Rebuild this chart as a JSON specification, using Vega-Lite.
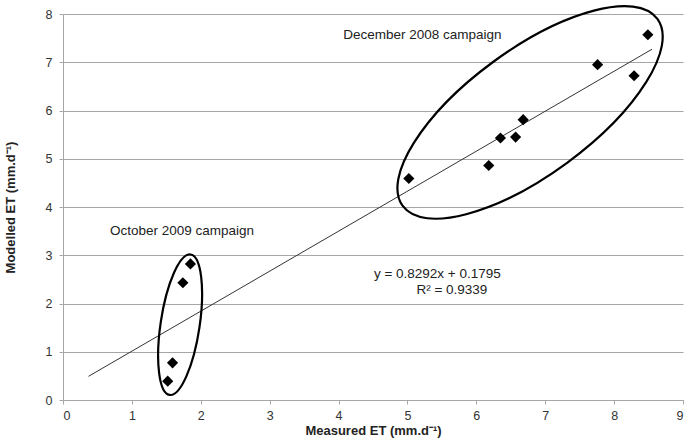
{
  "$schema": "https://vega.github.io/schema/vega-lite/v6.json",
  "width": 620,
  "height": 386,
  "autosize": {"type": "none"},
  "padding": {"left": 63, "top": 14, "right": 2, "bottom": 44},
  "background": "white",
  "config": {
    "view": {"stroke": null},
    "font": "Liberation Sans",
    "axis": {
      "labelFont": "Liberation Sans",
      "titleFont": "Liberation Sans",
      "labelFontSize": 12.5,
      "labelColor": "#333333",
      "titleFontSize": 13,
      "titleFontWeight": "bold",
      "titleColor": "#222222",
      "domainColor": "#a6a6a6",
      "tickColor": "#a6a6a6",
      "gridColor": "#a6a6a6",
      "gridWidth": 1
    }
  },
  "datasets": {
    "measured": [
      {"x": 1.52, "y": 0.39},
      {"x": 1.59, "y": 0.77},
      {"x": 1.74, "y": 2.43},
      {"x": 1.85, "y": 2.82},
      {"x": 5.02, "y": 4.59},
      {"x": 6.18, "y": 4.86},
      {"x": 6.35, "y": 5.43},
      {"x": 6.57, "y": 5.45},
      {"x": 6.68, "y": 5.81},
      {"x": 7.76, "y": 6.95},
      {"x": 8.29, "y": 6.72},
      {"x": 8.49, "y": 7.57}
    ],
    "trend": [
      {"x": 0.37, "y": 0.49},
      {"x": 8.55, "y": 7.27}
    ],
    "dec": [{"x": 6.78, "y": 5.96}],
    "oct": [{"x": 1.70, "y": 1.56}],
    "labels": [
      {"x": 5.217, "y": 7.56, "label": "December 2008 campaign"},
      {"x": 1.727, "y": 3.50, "label": "October 2009 campaign"},
      {"x": 5.434, "y": 2.61, "label": "y = 0.8292x + 0.1795"},
      {"x": 5.645, "y": 2.28, "label": "R² = 0.9339"}
    ]
  },
  "encoding": {
    "x": {
      "field": "x",
      "type": "quantitative",
      "scale": {"domain": [0, 9], "nice": false, "zero": false},
      "axis": {
        "title": "Measured ET (mm.d⁻¹)",
        "values": [0, 1, 2, 3, 4, 5, 6, 7, 8, 9],
        "grid": false,
        "tickSize": 4,
        "labelPadding": 5,
        "titlePadding": 3
      }
    },
    "y": {
      "field": "y",
      "type": "quantitative",
      "scale": {"domain": [0, 8], "nice": false, "zero": false},
      "axis": {
        "title": "Modelled ET (mm.d⁻¹)",
        "values": [0, 1, 2, 3, 4, 5, 6, 7, 8],
        "grid": true,
        "tickSize": 4,
        "labelPadding": 7,
        "titlePadding": 28
      }
    }
  },
  "layer": [
    {
      "data": {"name": "trend"},
      "mark": {"type": "line", "color": "#333333", "strokeWidth": 1}
    },
    {
      "data": {"name": "dec"},
      "mark": {
        "type": "point",
        "shape": "M -1 0 C -1 -0.2187 -0.5523 -0.396 0 -0.396 C 0.5523 -0.396 1 -0.2187 1 0 C 1 0.2187 0.5523 0.396 0 0.396 C -0.5523 0.396 -1 0.2187 -1 0 Z",
        "size": 99856,
        "angle": -36.3,
        "filled": false,
        "stroke": "#000000",
        "strokeWidth": 2.2,
        "opacity": 1
      }
    },
    {
      "data": {"name": "oct"},
      "mark": {
        "type": "point",
        "shape": "M -1 0 C -1 -0.1519 -0.5523 -0.275 0 -0.275 C 0.5523 -0.275 1 -0.1519 1 0 C 1 0.1519 0.5523 0.275 0 0.275 C -0.5523 0.275 -1 0.1519 -1 0 Z",
        "size": 20164,
        "angle": -81.5,
        "filled": false,
        "stroke": "#000000",
        "strokeWidth": 2.2,
        "opacity": 1
      }
    },
    {
      "data": {"name": "measured"},
      "mark": {"type": "point", "shape": "diamond", "filled": true, "color": "#000000", "size": 125, "opacity": 1}
    },
    {
      "data": {"name": "labels"},
      "mark": {"type": "text", "font": "Liberation Sans", "fontSize": 13.5, "color": "#222222", "align": "center", "baseline": "middle"},
      "encoding": {"text": {"field": "label"}}
    }
  ]
}
